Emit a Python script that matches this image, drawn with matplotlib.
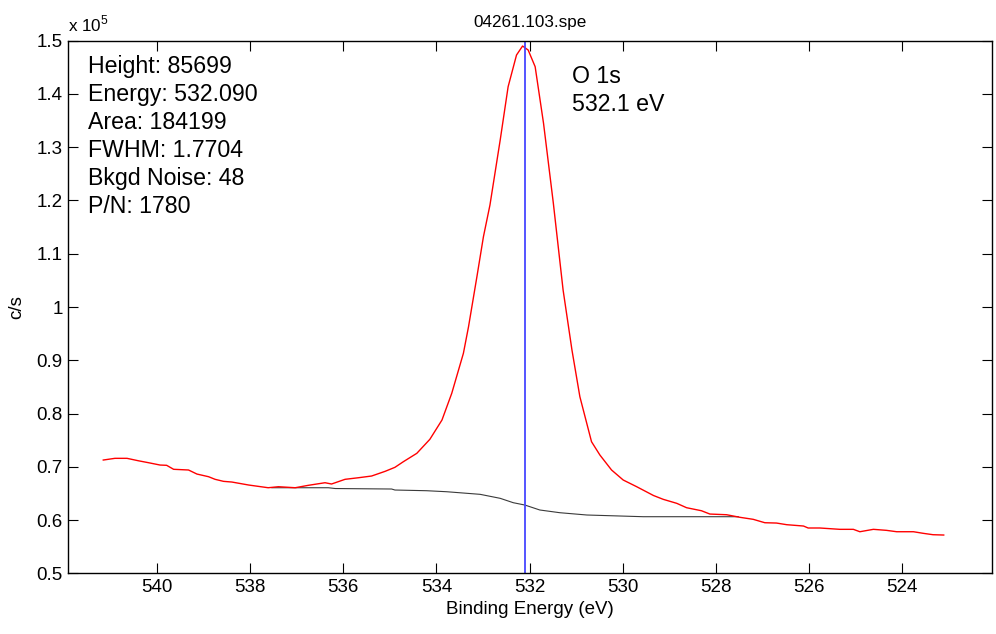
"""
O 1s XPS region scan (04261.103.spe), redrawn in the old MATLAB style.
"""

import matplotlib
matplotlib.use("Agg")
import matplotlib.pyplot as plt
from matplotlib.ticker import FuncFormatter

plt.rcParams["font.family"] = ["Liberation Sans", "DejaVu Sans"]

# measured spectrum (binding energy in eV, counts per second)
red_be = [541.15, 540.90, 540.64, 540.40, 540.18, 539.93, 539.79, 539.64, 539.32,
          539.14, 538.89, 538.75, 538.57, 538.39, 538.03, 537.61, 537.39, 537.03,
          536.75, 536.39, 536.25, 535.96, 535.67, 535.39, 535.10, 534.89, 534.71,
          534.42, 534.14, 533.88, 533.67, 533.42, 533.31, 533.13, 532.99, 532.85,
          532.63, 532.46, 532.28, 532.15, 532.03, 531.88, 531.70, 531.49, 531.28,
          531.09, 530.92, 530.67, 530.49, 530.24, 529.99, 529.70, 529.34, 529.13,
          528.84, 528.63, 528.31, 528.13, 527.77, 527.48, 527.20, 526.95, 526.70,
          526.48, 526.12, 526.02, 525.77, 525.34, 525.05, 524.91, 524.62, 524.34,
          524.12, 523.76, 523.55, 523.34, 523.11]
red_cps = [71270, 71590, 71590, 71140, 70770, 70330, 70280, 69530, 69400,
           68640, 68140, 67650, 67270, 67140, 66580, 66070, 66260, 66070,
           66520, 67010, 66770, 67650, 67950, 68270, 69150, 69900, 70950,
           72530, 75160, 78780, 83800, 91310, 96300, 105690, 113200, 119150,
           131360, 141360, 147310, 149000, 148250, 145120, 134490, 119530, 103190,
           91930, 83160, 74710, 72210, 69400, 67520, 66260, 64610, 63890,
           63140, 62320, 61750, 61130, 61000, 60510, 60140, 59500, 59440,
           59130, 58880, 58510, 58510, 58260, 58260, 57810, 58260, 58070,
           57810, 57810, 57510, 57250, 57190]

# Shirley-type background under the peak
bg_be = [537.53, 536.32, 536.17, 534.96, 534.89, 534.21, 533.78, 533.06,
         532.63, 532.35, 532.10, 531.78, 531.35, 530.77, 529.56, 527.52]
bg_cps = [66070, 66070, 65920, 65830, 65640, 65510, 65320, 64830,
          64080, 63260, 62820, 61890, 61380, 60950, 60630, 60630]

peak_energy = 532.09
peak_info = ["Height: 85699", "Energy: 532.090", "Area: 184199",
             "FWHM: 1.7704", "Bkgd Noise: 48", "P/N: 1780"]
peak_label = ["O 1s", "532.1 eV"]
y_ticks = [50000, 60000, 70000, 80000, 90000, 100000,
           110000, 120000, 130000, 140000, 150000]
x_ticks = [540, 538, 536, 534, 532, 530, 528, 526, 524]

fig = plt.figure(figsize=(9.96, 6.34), dpi=100)
ax = fig.add_axes([0.0686, 0.0957, 0.9271, 0.8401])

ax.plot(bg_be, bg_cps, color="#3a3a3a", lw=0.8)
ax.plot(red_be, red_cps, color="#ff0000", lw=1.0)
ax.axvline(peak_energy, color="#4646ff", lw=1.3)

ax.set_xlim(541.9, 522.08)
ax.set_ylim(50000, 150000)
ax.set_xticks(x_ticks)
ax.set_yticks(y_ticks)
ax.yaxis.set_major_formatter(FuncFormatter(lambda v, _: f"{v / 1e5:g}"))

ax.tick_params(direction="in", length=7, width=0.8, top=True, right=True,
               labelsize=13.5, colors="black")
ax.tick_params(axis="x", pad=4)
ax.tick_params(axis="y", pad=4)
for sp in ax.spines.values():
    sp.set_linewidth(1.0)

ax.set_xlabel("Binding Energy (eV)", fontsize=13.5, labelpad=4)
ax.set_ylabel("c/s", fontsize=13.5, labelpad=8)
ax.set_title("04261.103.spe", fontsize=12.3, pad=10)

ax.text(0.0, 1.017, r"x 10$^{\mathregular{5}}$", transform=ax.transAxes,
        fontsize=12.3, ha="left", va="baseline")

for i, line in enumerate(peak_info):
    ax.text(0.0213, 0.9388 - i * 0.0526, line, transform=ax.transAxes,
            fontsize=16.7, ha="left", va="baseline")

for i, line in enumerate(peak_label):
    ax.text(0.546, 0.920 - i * 0.052, line, transform=ax.transAxes,
            fontsize=16.7, ha="left", va="baseline")

fig.savefig("out.png", dpi=100)
